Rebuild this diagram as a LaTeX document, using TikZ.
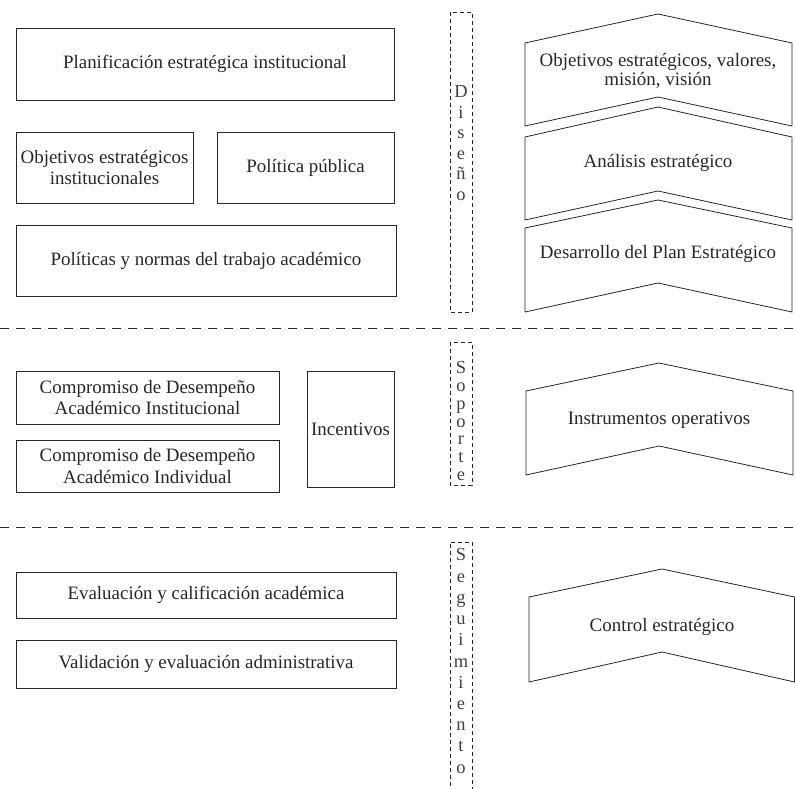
\documentclass[tikz,border=0pt]{standalone}
\usepackage{fontspec}
\setmainfont{Liberation Serif}
\begin{document}
\begin{tikzpicture}[x=1bp,y=-1bp,
  box/.style={draw=black!85, line width=0.8bp, inner sep=0pt, align=center, text=black!85, font=\fontsize{19}{22}\selectfont},
  lbl/.style={inner sep=0pt, align=center, text=black!85, font=\fontsize{19}{18.5}\selectfont},
  vbox/.style={draw=black!85, dash pattern=on 4bp off 3bp, line width=0.8bp},
  vtxt/.style={inner sep=0pt, align=center, text=black!75, font=\fontsize{18.5}{#1}\selectfont},
  sepline/.style={draw=black!85, dash pattern=on 9bp off 7bp, line width=0.8bp},
  chev/.style={draw=black!85, line width=0.8bp}
]
\useasboundingbox (0,0) rectangle (795,789);

% separators
\coordinate (s1l) at (0,328); \coordinate (s1r) at (795,328);
\coordinate (s2l) at (0,527); \coordinate (s2r) at (795,527);
\draw[sepline] (s1l) -- (s1r);
\draw[sepline] (s2l) -- (s2r);

% left boxes - Diseño
\node[box, minimum width=378bp, minimum height=72bp] (plan) at (205,64) {Planificación estratégica institucional};
\node[box, minimum width=177bp, minimum height=71bp] (obj) at (104.5,167.5) {Objetivos estratégicos\\institucionales};
\node[box, minimum width=177bp, minimum height=71bp] (pol) at (305.5,167.5) {Política pública};
\node[box, minimum width=380bp, minimum height=71bp] (norm) at (206,260.5) {Políticas y normas del trabajo académico};

% left boxes - Soporte
\node[box, minimum width=263bp, minimum height=53bp] (cinst) at (147.5,397.5) {Compromiso de Desempeño\\Académico Institucional};
\node[box, minimum width=263bp, minimum height=52bp] (cind) at (147.5,466) {Compromiso de Desempeño\\Académico Individual};
\node[box, minimum width=87bp, minimum height=116bp] (inc) at (350.5,429) {Incentivos};

% left boxes - Seguimiento
\node[box, minimum width=380bp, minimum height=46bp] (eval) at (206,595) {Evaluación y calificación académica};
\node[box, minimum width=380bp, minimum height=48bp] (valid) at (206,664) {Validación y evaluación administrativa};

% vertical dashed boxes
\draw[vbox] (450,12) rectangle (472,312);
\node[vtxt=20.5] (dis) at (461,143) {D\\i\\s\\e\\ñ\\o};
\draw[vbox] (450,342) rectangle (472,485);
\node[vtxt=18] (sop) at (461,421) {S\\o\\p\\o\\r\\t\\e};
\draw[vbox] (450,800) -- (450,542) -- (472,542) -- (472,800);
\node[vtxt=21.3] (seg) at (461,661) {S\\e\\g\\u\\i\\m\\i\\e\\n\\t\\o};

% chevrons
\draw[chev] (525,43) -- (658,14) -- (792,43) -- (792,126) -- (658,97) -- (525,126) -- cycle;
\node[lbl] (c1) at (658,71) {Objetivos estratégicos, valores,\\misión, visión};
\draw[chev] (525,137) -- (658,107) -- (792,137) -- (792,220) -- (658,191) -- (525,220) -- cycle;
\node[lbl] (c2) at (658,163) {Análisis estratégico};
\draw[chev] (525,228) -- (658,200) -- (792,228) -- (792,312) -- (658,283) -- (525,312) -- cycle;
\node[lbl] (c3) at (658,254) {Desarrollo del Plan Estratégico};
\draw[chev] (526,391) -- (659,363) -- (793,391) -- (793,475) -- (659,446) -- (526,475) -- cycle;
\node[lbl] (c4) at (659,420) {Instrumentos operativos};
\draw[chev] (529,597) -- (662,569) -- (794.5,597) -- (794.5,682) -- (662,652) -- (529,682) -- cycle;
\node[lbl] (c5) at (662,627) {Control estratégico};
\end{tikzpicture}
\end{document}
